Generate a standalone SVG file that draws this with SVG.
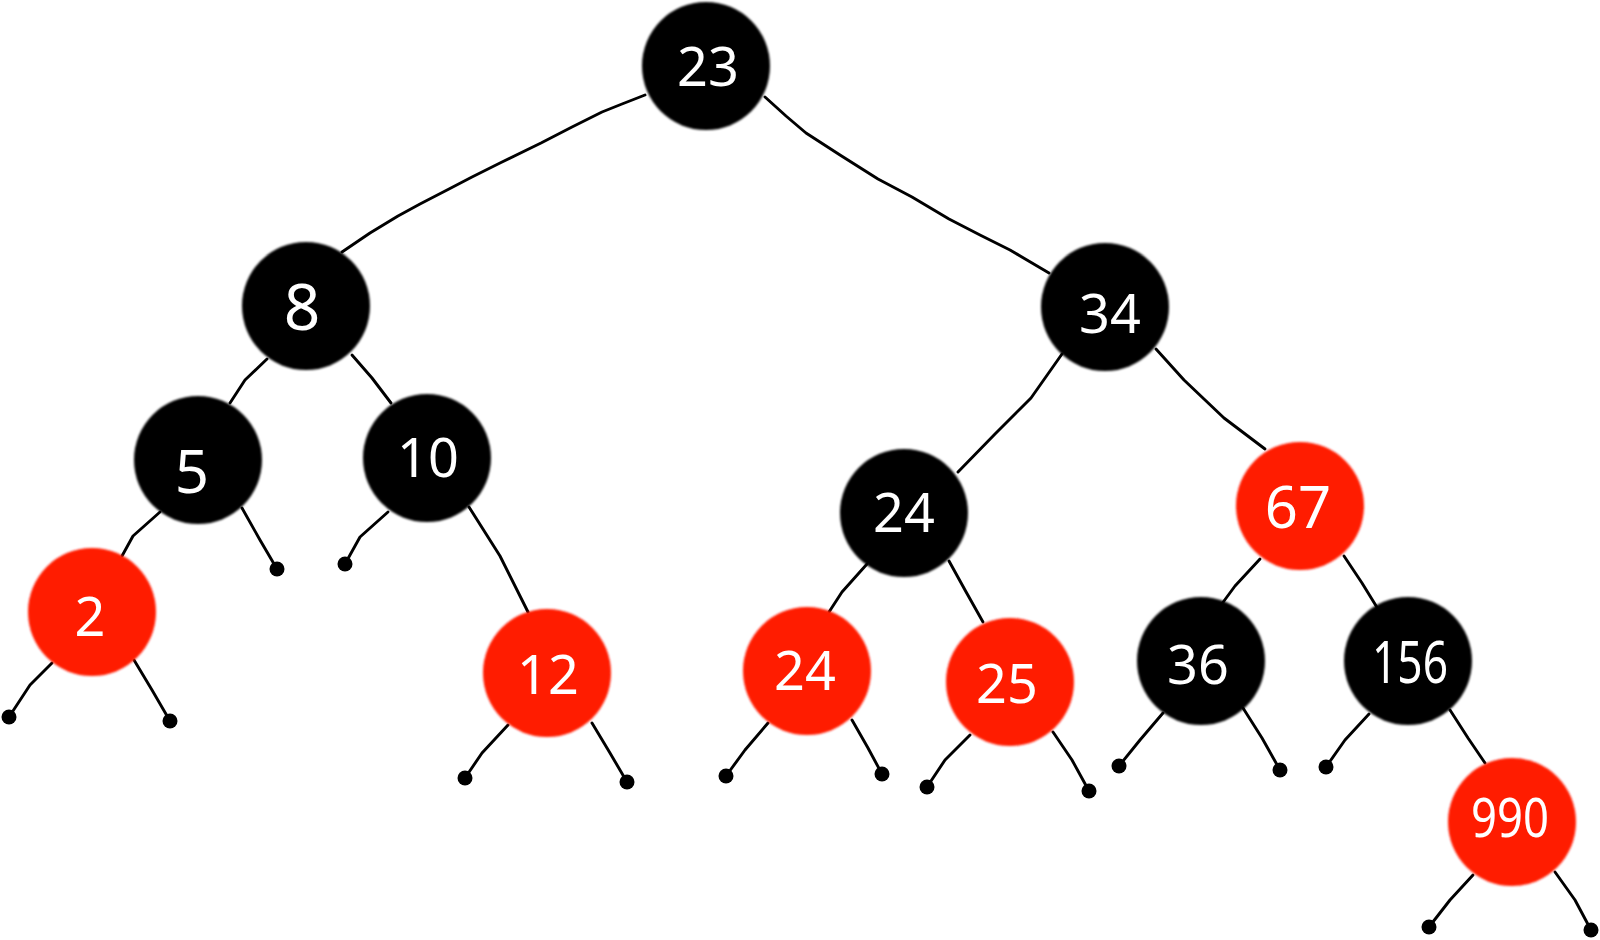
<svg xmlns="http://www.w3.org/2000/svg" width="1600" height="940" viewBox="0 0 1600 940">
<defs>
<filter id="soft" x="-10%" y="-10%" width="120%" height="120%"><feGaussianBlur stdDeviation="0.9"/></filter>
</defs>
<style>
.e{fill:none;stroke:#000;stroke-width:2.9;stroke-linejoin:round;stroke-linecap:round}
.leaf{fill:#000}
.b{fill:#000;filter:url(#soft)}
.r{fill:#FF1A00;filter:url(#soft)}
.t{fill:#fff;font-family:"Noto Sans","DejaVu Sans",sans-serif;font-size:54px;font-weight:400;text-anchor:middle}
</style>
<rect width="1600" height="940" fill="#fff"/>
<g id="connectors">
<path class="e" d="M645,95 L622,104 L602,112 L572,127 L541,143 L500,163 L472,177 L449,189 L420,204 L398,216 L370,233 L342,252"/>
<path class="e" d="M765,97 L786,116 L806,133 L840,155 L878,179 L912,197 L949,219 L980,235 L1010,250 L1049,273"/>
<path class="e" d="M267,359 L245,380 L230,403"/>
<path class="e" d="M352,355 L372,378 L391,403"/>
<path class="e" d="M160,512 L133,536 L122,556"/>
<path class="e" d="M242,508 L260,540 L277,569"/>
<path class="e" d="M388,512 L360,537 L345,564"/>
<path class="e" d="M469,507 L500,556 L528,612"/>
<path class="e" d="M52,663 L30,685 L9,717"/>
<path class="e" d="M134,660 L152,690 L170,721"/>
<path class="e" d="M508,725 L482,753 L465,778"/>
<path class="e" d="M592,723 L610,753 L627,782"/>
<path class="e" d="M1062,354 L1031,398 L995,434 L958,472"/>
<path class="e" d="M1156,349 L1184,380 L1224,418 L1265,449"/>
<path class="e" d="M867,564 L842,592 L829,612"/>
<path class="e" d="M949,561 L965,590 L983,622"/>
<path class="e" d="M768,723 L745,750 L726,776"/>
<path class="e" d="M852,720 L868,748 L882,774"/>
<path class="e" d="M970,735 L945,760 L927,787"/>
<path class="e" d="M1053,732 L1072,760 L1089,791"/>
<path class="e" d="M1260,559 L1235,586 L1221,605"/>
<path class="e" d="M1344,556 L1362,583 L1378,609"/>
<path class="e" d="M1163,713 L1140,740 L1119,766"/>
<path class="e" d="M1243,708 L1262,738 L1280,770"/>
<path class="e" d="M1369,714 L1345,740 L1326,767"/>
<path class="e" d="M1450,710 L1468,738 L1485,763"/>
<path class="e" d="M1473,875 L1450,900 L1429,927"/>
<path class="e" d="M1555,872 L1575,900 L1591,930"/>
<circle class="leaf" cx="277" cy="569" r="7.5"/>
<circle class="leaf" cx="345" cy="564" r="7.5"/>
<circle class="leaf" cx="9" cy="717" r="7.5"/>
<circle class="leaf" cx="170" cy="721" r="7.5"/>
<circle class="leaf" cx="465" cy="778" r="7.5"/>
<circle class="leaf" cx="627" cy="782" r="7.5"/>
<circle class="leaf" cx="726" cy="776" r="7.5"/>
<circle class="leaf" cx="882" cy="774" r="7.5"/>
<circle class="leaf" cx="927" cy="787" r="7.5"/>
<circle class="leaf" cx="1089" cy="791" r="7.5"/>
<circle class="leaf" cx="1119" cy="766" r="7.5"/>
<circle class="leaf" cx="1280" cy="770" r="7.5"/>
<circle class="leaf" cx="1326" cy="767" r="7.5"/>
<circle class="leaf" cx="1429" cy="927" r="7.5"/>
<circle class="leaf" cx="1591" cy="930" r="7.5"/>
</g>
<g id="n23"><circle class="b" cx="706" cy="66" r="64"/><text class="t" x="708" y="86">23</text></g>
<g id="n8"><circle class="b" cx="306" cy="306" r="64"/><text class="t" x="302" y="330" style="font-size:64px">8</text></g>
<g id="n34"><circle class="b" cx="1105" cy="307" r="64"/><text class="t" x="1110" y="333">34</text></g>
<g id="n5"><circle class="b" cx="198" cy="460" r="64"/><text class="t" x="192" y="493" style="font-size:60px">5</text></g>
<g id="n10"><circle class="b" cx="427" cy="458" r="64"/><text class="t" x="428" y="477">10</text></g>
<g id="n24b"><circle class="b" cx="904" cy="513" r="64"/><text class="t" x="904" y="532">24</text></g>
<g id="n67"><circle class="r" cx="1300" cy="506" r="64"/><text class="t" x="1298" y="528" style="font-size:58px">67</text></g>
<g id="n2"><circle class="r" cx="92" cy="612" r="64"/><text class="t" x="90" y="636">2</text></g>
<g id="n12"><circle class="r" cx="547" cy="673" r="64"/><text class="t" x="548" y="694">12</text></g>
<g id="n24r"><circle class="r" cx="807" cy="671" r="64"/><text class="t" x="805" y="690">24</text></g>
<g id="n25"><circle class="r" cx="1010" cy="682" r="64"/><text class="t" x="1007" y="703">25</text></g>
<g id="n36"><circle class="b" cx="1201" cy="661" r="64"/><text class="t" x="1198" y="684">36</text></g>
<g id="n156"><circle class="b" cx="1408" cy="661" r="64"/><text class="t" x="1410" y="683" textLength="76" lengthAdjust="spacingAndGlyphs" style="font-size:58px">156</text></g>
<g id="n990"><circle class="r" cx="1512" cy="822" r="64"/><text class="t" x="1510" y="837" textLength="78" lengthAdjust="spacingAndGlyphs">990</text></g>
</svg>
